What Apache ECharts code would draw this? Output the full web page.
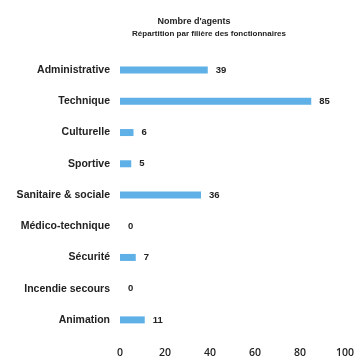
<!DOCTYPE html>
<html><head><meta charset="utf-8">
<script src="https://cdn.jsdelivr.net/npm/echarts@6/dist/echarts.min.js"></script>
<style>html,body{margin:0;padding:0;background:#fff}#c{width:358px;height:361px}</style>
</head><body><div id="c"></div>
<script>
const categories = ["Administrative","Technique","Culturelle","Sportive","Sanitaire & sociale","Médico-technique","Sécurité","Incendie secours","Animation"];
const values = [39,85,6,5,36,0,7,0,11];
const xTicks = [0,20,40,60,80,100];
const titleText = "Nombre d'agents";
const subtitleText = "Répartition par filière des fonctionnaires";

const chart = echarts.init(document.getElementById('c'));
const tStyle = {fontFamily:'Liberation Sans',fontSize:8,fontWeight:'bold',color:'#222'};
chart.setOption({
  animation:false,
  title:[
    {text:titleText, left:189, textAlign:'center', top:12, textStyle:Object.assign({},tStyle,{fontSize:9})},
    {text:subtitleText, left:204, textAlign:'center', top:25, textStyle:tStyle}
  ],
  grid:{left:120,right:13,top:54.5,bottom:25.5,containLabel:false},
  xAxis:{type:'value',min:xTicks[0],max:xTicks[xTicks.length-1],interval:20,
    axisLine:{show:false},axisTick:{show:false},splitLine:{show:false},
    axisLabel:{margin:12,fontFamily:'Open Sans',fontSize:10.5,fontWeight:600,color:'#222'}},
  yAxis:{type:'category',data:categories,inverse:true,
    axisLine:{show:false},axisTick:{show:false},
    axisLabel:{margin:10,fontFamily:'Liberation Sans',fontSize:10.5,fontWeight:'bold',color:'#222'}},
  series:[{type:'bar',data:values,barWidth:7,
    itemStyle:{color:'#5fb0e6'},
    label:{show:true,position:'right',distance:8,fontFamily:'Liberation Sans',fontSize:9.5,fontWeight:'bold',color:'#222'}}]
});
</script></body></html>
